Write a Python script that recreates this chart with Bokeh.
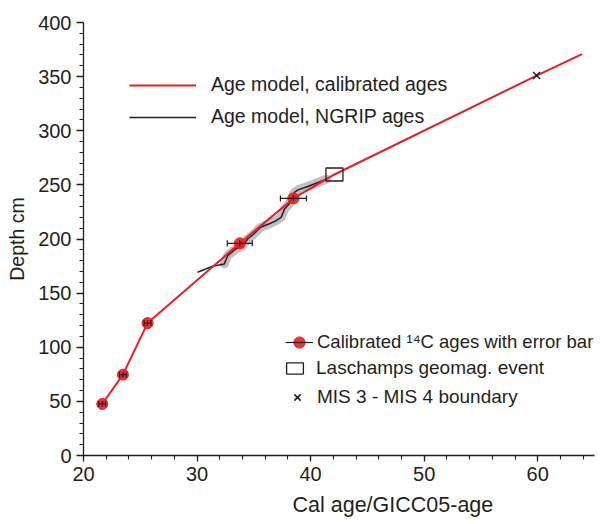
from bokeh.plotting import figure
from bokeh.models import Range1d, SingleIntervalTicker, Legend, LegendItem, Title
from bokeh.embed import file_html
from bokeh.resources import INLINE
import numpy as np

# ---- data ----
cal_age = [21.65, 23.47, 25.64, 33.76, 38.49]
cal_depth = [47.6, 74.7, 122.3, 196.0, 237.5]
cal_err = [0.3, 0.3, 0.3, 1.1, 1.15]

model_age = [21.65, 23.47, 25.64, 33.76, 38.49, 42.1, 59.9, 63.9]
model_depth = [47.6, 74.7, 122.3, 196.0, 237.5, 259.6, 351.0, 370.8]

ngrip_age = [30.05, 31.37, 32.4, 32.7, 33.4, 34.0, 34.46, 35.0, 35.6, 36.3,
             36.96, 37.4, 37.7, 38.1, 38.57, 38.9, 39.75, 40.6, 41.4]
ngrip_depth = [169.3, 174.8, 177.0, 184.6, 190.8, 193.8, 200.0, 204.6, 210.8, 213.8,
               216.9, 220.0, 227.6, 232.3, 243.0, 245.4, 248.5, 252.0, 255.3]

lasch_age = [42.1]
lasch_depth = [259.6]
mis_age = [59.9]
mis_depth = [351.0]

x_label = "Cal age/GICC05-age"
y_label = "Depth cm"

RED = "#ec1c24"
INK = "#231f20"
FONT = "Liberation Sans"

p = figure(width=600, height=524, x_range=Range1d(20, 65), y_range=Range1d(0, 400),
           output_backend="svg", toolbar_location=None,
           min_border_left=83, min_border_right=6, min_border_top=22, min_border_bottom=68)
p.grid.visible = False
p.outline_line_color = None

for ax, iv in ((p.xaxis, 10), (p.yaxis, 50)):
    ax.ticker = SingleIntervalTicker(interval=iv, num_minor_ticks=5)
    ax.major_tick_in = 0
    ax.minor_tick_in = 0
    ax.minor_tick_out = 4
    ax.axis_line_color = INK
    ax.major_tick_line_color = INK
    ax.minor_tick_line_color = INK
    ax.axis_line_width = 1.3
    ax.major_tick_line_width = 1.3
    ax.minor_tick_line_width = 1.1
    ax.major_label_text_font = FONT
    ax.major_label_text_font_size = "20px"
    ax.major_label_text_color = INK
    ax.major_label_standoff = 5
p.xaxis.major_tick_out = 6
p.yaxis.major_tick_out = 7
p.yaxis.axis_label = y_label
p.yaxis.axis_label_text_font = FONT
p.yaxis.axis_label_text_font_size = "19.5px"
p.yaxis.axis_label_text_font_style = "normal"
p.yaxis.axis_label_text_color = INK
p.yaxis.axis_label_standoff = 7

p.add_layout(Title(text=x_label, align="left", offset=209, standoff=15, text_font=FONT,
                   text_font_size="21.5px", text_font_style="normal", text_color=INK), "below")

# gray uncertainty envelope of the NGRIP age model
p.line(ngrip_age[2:], ngrip_depth[2:], line_color="#b5b5b5", line_width=9, line_alpha=0.85,
       line_join="round", line_cap="round")
r_black = p.line(ngrip_age, ngrip_depth, line_color=INK, line_width=1.5)
r_red = p.line(model_age, model_depth, line_color=RED, line_width=2)

r_dot = p.scatter(cal_age, cal_depth, size=11, fill_color=RED, line_color=RED, fill_alpha=0.9)
ca = np.array(cal_age)
ce = np.array(cal_err)
r_err = p.segment(ca - ce, cal_depth, ca + ce, cal_depth, line_color=INK, line_width=1.2)
p.scatter(np.concatenate([ca - ce, ca, ca + ce]), cal_depth * 3, marker="dash", angle=np.pi / 2,
          size=6, line_color=INK, line_width=1.2)

r_box = p.rect(lasch_age, lasch_depth, width=17, height=13, width_units="screen",
               height_units="screen", fill_color=None, line_color=INK, line_width=1.3)
r_mis = p.scatter(mis_age, mis_depth, marker="x", size=10, line_color=INK, line_width=1.5)

def mk_legend(items, loc, gw, gh, lh, standoff, fs, spacing=0):
    lg = Legend(items=items, location=loc, glyph_width=gw, glyph_height=gh, label_height=lh,
                label_standoff=standoff, label_text_font=FONT, label_text_font_size=fs,
                label_text_color=INK, spacing=spacing, padding=0, margin=0,
                background_fill_alpha=0, border_line_color=None)
    p.add_layout(lg)

mk_legend([LegendItem(label="Age model, calibrated ages", renderers=[r_red]),
           LegendItem(label="Age model, NGRIP ages", renderers=[r_black])],
          (46, 327), 67, 22, 22, 15, "19.5px", spacing=9)
mk_legend([LegendItem(label="Calibrated \u00b9\u2074C ages with error bar", renderers=[r_dot, r_err])],
          (202, 99), 28, 28, 28, 4, "18.5px")
mk_legend([LegendItem(label="Laschamps geomag. event", renderers=[r_box])],
          (201, 76), 21, 14, 22, 11, "19px")
mk_legend([LegendItem(label="MIS 3 - MIS 4 boundary", renderers=[r_mis])],
          (201, 47), 26, 22, 22, 7, "19px")

open("out.html", "w").write(file_html(p, INLINE))
